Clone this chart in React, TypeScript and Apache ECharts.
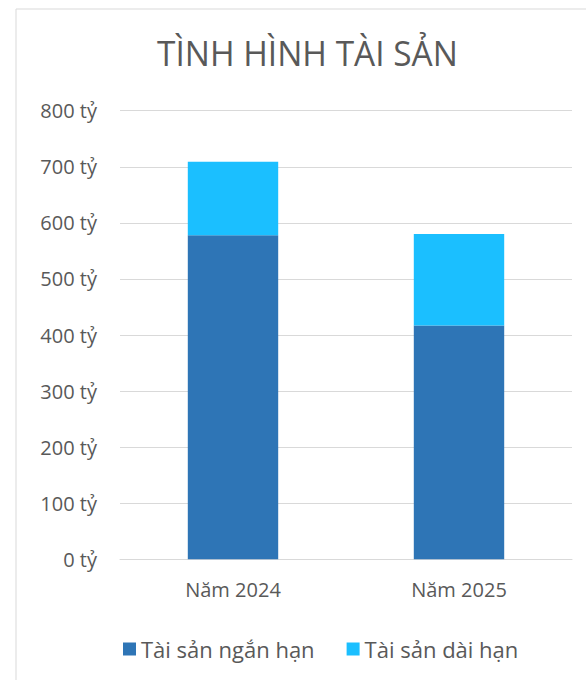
import React, { useEffect, useRef } from "react";
import * as echarts from "echarts";

const categories = ["Năm 2024", "Năm 2025"];
const shortTerm = [578, 417];
const longTerm = [131, 163];
const seriesNames = ["Tài sản ngắn hạn", "Tài sản dài hạn"];
const titleText = "TÌNH HÌNH TÀI SẢN";

export default function App() {
  const ref = useRef<HTMLDivElement>(null);
  useEffect(() => {
    if (!ref.current) return;
    const chart = echarts.init(ref.current, null, { renderer: "svg" });
    const font = "'Open Sans', sans-serif";
    chart.setOption({
      animation: false,
      backgroundColor: "#ffffff",
      graphic: [
        {
          type: "rect",
          shape: { x: 16, y: 9, width: 620, height: 720 },
          style: { fill: "none", stroke: "#d9d9d9", lineWidth: 1 },
          z: -1,
        },
        {
          type: "text",
          x: 157,
          y: 70,
          scaleX: 0.955,
          style: {
            text: titleText,
            fontFamily: font,
            fontSize: 35,
            fill: "#595959",
            align: "left",
            verticalAlign: "bottom",
          },
        },
      ],
      grid: { left: 120, right: 14, top: 110.7, bottom: 120.7 },
      legend: {
        data: seriesNames,
        left: 118,
        top: 633,
        itemWidth: 13,
        itemHeight: 13,
        itemGap: 32,
        icon: "rect",
        textStyle: { fontFamily: font, fontSize: 22, color: "#595959" },
      },
      xAxis: {
        type: "category",
        data: categories,
        axisLine: { show: true, lineStyle: { color: "#d9d9d9" } },
        axisTick: { show: false },
        axisLabel: { fontFamily: font, fontSize: 20, color: "#595959", margin: 20 },
      },
      yAxis: {
        type: "value",
        min: 0,
        max: 800,
        interval: 100,
        axisLine: { show: false },
        axisTick: { show: false },
        splitLine: { lineStyle: { color: "#d9d9d9", width: 1 } },
        axisLabel: {
          fontFamily: font,
          fontSize: 20,
          color: "#595959",
          margin: 23,
          formatter: (v: number) => `${v} tỷ`,
        },
      },
      series: [
        {
          name: seriesNames[0],
          type: "bar",
          stack: "total",
          data: shortTerm,
          barWidth: "40%",
          itemStyle: { color: "#2E75B6" },
        },
        {
          name: seriesNames[1],
          type: "bar",
          stack: "total",
          data: longTerm,
          barWidth: "40%",
          itemStyle: { color: "#1BBFFF" },
        },
      ],
    });
    return () => chart.dispose();
  }, []);
  return (
    <div
      ref={ref}
      style={{ position: "fixed", left: 0, top: 0, width: 586, height: 680 }}
    />
  );
}
